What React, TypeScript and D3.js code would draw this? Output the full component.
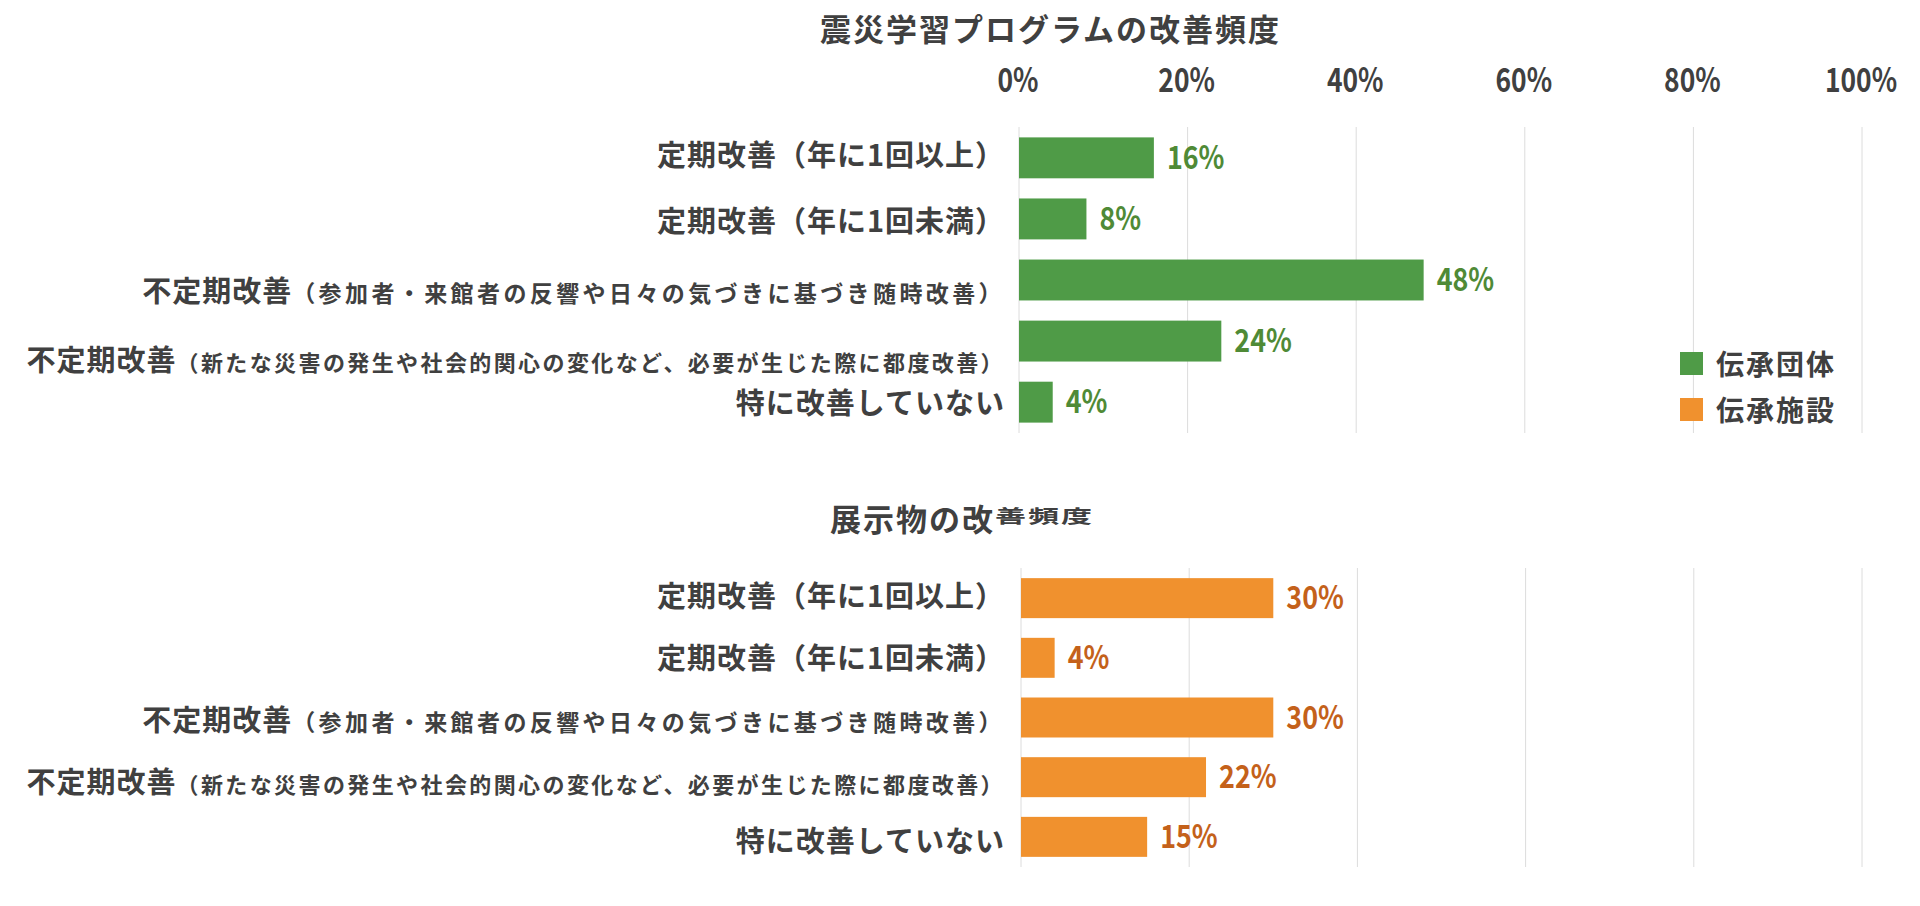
import * as d3 from "d3";

// 震災学習プログラム / 展示物 の改善頻度
const mainLabels = [
  "定期改善（年に1回以上）",
  "定期改善（年に1回未満）",
  "不定期改善",
  "不定期改善",
  "特に改善していない",
];
const noteLabels = [
  "",
  "",
  "（参加者・来館者の反響や日々の気づきに基づき随時改善）",
  "（新たな災害の発生や社会的関心の変化など、必要が生じた際に都度改善）",
  "",
];
const groupValues = [16, 8, 48, 24, 4]; // 伝承団体
const facilityValues = [30, 4, 30, 22, 15]; // 伝承施設
const tickValues = [0, 20, 40, 60, 80, 100];
const legendNames = ["伝承団体", "伝承施設"];
const topTitle = "震災学習プログラムの改善頻度";
const bottomTitleA = "展示物の改";
const bottomTitleB = "善頻度";

const W = 1920;
const H = 906;
const TEXT = "#404040";
const GRID = "#dcdcdc";
const GREEN = "#4f9b47";
const GREEN_TXT = "#4f8a36";
const ORANGE = "#f0912e";
const ORANGE_TXT = "#c4611a";
const JP = "'Noto Sans CJK JP', 'Noto Sans', sans-serif";
const LABEL_END = 1005;
const noteSize = [0, 0, 23, 22, 0];
const noteSpacing = [0, 0, 3.4, 2.4, 0];

type PanelProps = {
  values: number[];
  xRange: [number, number];
  yRange: [number, number];
  fill: string;
  labelFill: string;
  nudge: number[];
};

const Panel = ({ values, xRange, yRange, fill, labelFill, nudge }: PanelProps) => {
  const x = d3.scaleLinear().domain([0, 100]).range(xRange);
  const y = d3
    .scaleBand<number>()
    .domain(values.map((_, i) => i))
    .range(yRange)
    .paddingInner(0.33)
    .paddingOuter(0.17);
  const bw = y.bandwidth();

  return (
    <g>
      {tickValues.map((t) => (
        <line
          key={t}
          x1={x(t)}
          x2={x(t)}
          y1={yRange[0]}
          y2={yRange[1]}
          stroke={GRID}
          strokeWidth={1}
        />
      ))}
      {values.map((v, i) => (
        <rect key={i} x={x(0)} y={y(i)!} width={x(v) - x(0)} height={bw} fill={fill} />
      ))}
      {values.map((v, i) => (
        <text
          key={i}
          transform={`translate(${x(v) + 13},${y(i)! + bw / 2 + 11}) scale(0.84,1)`}
          fill={labelFill}
          fontFamily={JP}
          fontWeight={700}
          fontSize={32}
        >
          {v}%
        </text>
      ))}
      {mainLabels.map((m, i) => (
        <text
          key={i}
          x={LABEL_END}
          y={y(i)! + bw / 2 + nudge[i] + 10}
          textAnchor="end"
          fill={TEXT}
          fontFamily={JP}
          fontWeight={700}
          fontSize={29}
          letterSpacing={1}
        >
          {m}
          {noteLabels[i] && (
            <tspan fontSize={noteSize[i]} letterSpacing={noteSpacing[i]}>
              {noteLabels[i]}
            </tspan>
          )}
        </text>
      ))}
    </g>
  );
};

export default function App() {
  const xTop = d3.scaleLinear().domain([0, 100]).range([1019, 1862]);
  const colors = [GREEN, ORANGE];
  const titleTop = 507;

  return (
    <div style={{ position: "absolute", left: 0, top: 0 }}>
      <svg width={W} height={H} style={{ display: "block", background: "#fff" }}>
        <rect width={W} height={H} fill="#fff" />
        <text x={820} y={41} fill={TEXT} fontFamily={JP} fontWeight={700} fontSize={31} letterSpacing={2}>
          {topTitle}
        </text>
        {tickValues.map((t) => (
          <text
            key={t}
            transform={`translate(${xTop(t) - 1},92) scale(0.8,1)`}
            textAnchor="middle"
            fill={TEXT}
            fontFamily={JP}
            fontWeight={700}
            fontSize={33}
          >
            {t}%
          </text>
        ))}
        <Panel
          values={groupValues}
          xRange={[1019, 1862]}
          yRange={[127, 433]}
          fill={GREEN}
          labelFill={GREEN_TXT}
          nudge={[-2, 3, 12, 20, 2]}
        />

        {legendNames.map((n, i) => (
          <g key={n}>
            <rect x={1680} y={352 + i * 46} width={23} height={23} fill={colors[i]} />
            <text
              x={1716}
              y={375 + i * 46}
              fill={TEXT}
              fontFamily={JP}
              fontWeight={700}
              fontSize={28}
              letterSpacing={2}
            >
              {n}
            </text>
          </g>
        ))}

        <text x={830} y={531} fill={TEXT} fontFamily={JP} fontWeight={700} fontSize={31} letterSpacing={2}>
          {bottomTitleA}
        </text>
        <g transform={`translate(0,${titleTop}) scale(1,0.6) translate(0,${-titleTop})`}>
          <text x={995} y={533} fill={TEXT} fontFamily={JP} fontWeight={700} fontSize={31} letterSpacing={2}>
            {bottomTitleB}
          </text>
        </g>
        <Panel
          values={facilityValues}
          xRange={[1021, 1862]}
          yRange={[568, 867]}
          fill={ORANGE}
          labelFill={ORANGE_TXT}
          nudge={[-1, 1, 3, 6, 5]}
        />
      </svg>
    </div>
  );
}
